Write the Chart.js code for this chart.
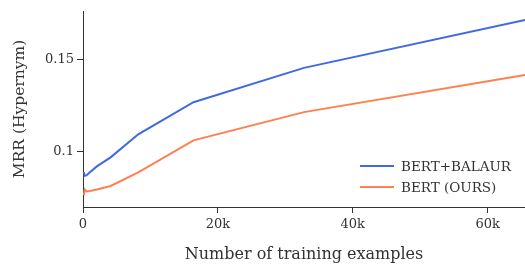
<!DOCTYPE html>
<html>
<head>
<meta charset="utf-8">
<script src="https://cdn.jsdelivr.net/npm/chart.js@4"></script>
<style>
  html, body { margin: 0; padding: 0; background: #fff; }
  #wrap { width: 525px; height: 264px; }
</style>
</head>
<body>
<div id="wrap"><canvas id="chart"></canvas></div>
<script>
const TRAIN_SIZES  = [128, 256, 512, 1024, 2048, 4096, 8192, 16384, 32768, 65536];
const BALAUR_MRR   = [0.0890, 0.0870, 0.0872, 0.0889, 0.0921, 0.0970, 0.1095, 0.1269, 0.1455, 0.1714];
const BERT_MRR     = [0.0764, 0.0796, 0.0785, 0.0788, 0.0796, 0.0815, 0.0889, 0.1062, 0.1215, 0.1416];
const X_TICKS      = [0, 20000, 40000, 60000];
const X_LABELS     = ["0", "20k", "40k", "60k"];
const Y_TICKS      = [0.1, 0.15];
const Y_LABELS     = ["0.1", "0.15"];

const FONT = "'DejaVu Serif', serif";
const INK  = "#333333";

const series = (label, ys, color) => ({
  label,
  data: TRAIN_SIZES.map((x, i) => ({ x, y: ys[i] })),
  borderColor: color,
  backgroundColor: color,
  borderWidth: 2,
  pointRadius: 0,
  tension: 0,
  fill: false,
});

// legend drawn inside the plot, lower right
const innerLegend = {
  id: "innerLegend",
  afterDatasetsDraw(chart) {
    const { ctx, chartArea } = chart;
    const x0 = chartArea.right - 165;
    let y = chartArea.bottom - 41;
    ctx.save();
    ctx.font = "13.5px " + FONT;
    ctx.textBaseline = "middle";
    chart.data.datasets.forEach(ds => {
      ctx.strokeStyle = ds.borderColor;
      ctx.lineWidth = 2;
      ctx.beginPath();
      ctx.moveTo(x0, y);
      ctx.lineTo(x0 + 34, y);
      ctx.stroke();
      ctx.fillStyle = INK;
      ctx.fillText(ds.label, x0 + 41, y + 1);
      y += 21;
    });
    ctx.restore();
  },
};

new Chart(document.getElementById("chart"), {
  type: "line",
  data: {
    datasets: [
      series("BERT+BALAUR", BALAUR_MRR, "#4169e1"),
      series("BERT (OURS)", BERT_MRR, "#ff7f50"),
    ],
  },
  options: {
    responsive: true,
    maintainAspectRatio: false,
    animation: false,
    layout: { padding: { top: 11, right: 0, left: 0, bottom: 0 } },
    plugins: { legend: { display: false }, tooltip: { enabled: false } },
    scales: {
      x: {
        type: "linear",
        min: 0,
        max: 65536,
        afterBuildTicks: s => { s.ticks = X_TICKS.map(v => ({ value: v })); },
        afterFit: s => { s.height = 57; },
        ticks: {
          color: INK,
          font: { family: FONT, size: 13 },
          padding: 4,
          maxRotation: 0,
          callback: (v, i) => X_LABELS[i],
        },
        grid: { drawOnChartArea: false, tickLength: 6, tickColor: INK, tickWidth: 1 },
        border: { display: true, color: INK, width: 1 },
        title: {
          display: true,
          text: "Number of training examples",
          color: INK,
          font: { family: FONT, size: 16 },
          padding: { top: 0, bottom: 0 },
        },
      },
      y: {
        min: 0.0701,
        max: 0.1763,
        afterBuildTicks: s => { s.ticks = Y_TICKS.map(v => ({ value: v })); },
        afterFit: s => { s.width = 83; },
        ticks: {
          color: INK,
          font: { family: FONT, size: 13 },
          padding: 3,
          callback: (v, i) => Y_LABELS[i],
        },
        grid: { drawOnChartArea: false, tickLength: 6, tickColor: INK, tickWidth: 1 },
        border: { display: true, color: INK, width: 1 },
        title: {
          display: true,
          text: "MRR (Hypernym)",
          color: INK,
          font: { family: FONT, size: 15.5 },
          padding: { top: 11, bottom: 0 },
        },
      },
    },
  },
  plugins: [innerLegend],
});
</script>
</body>
</html>
